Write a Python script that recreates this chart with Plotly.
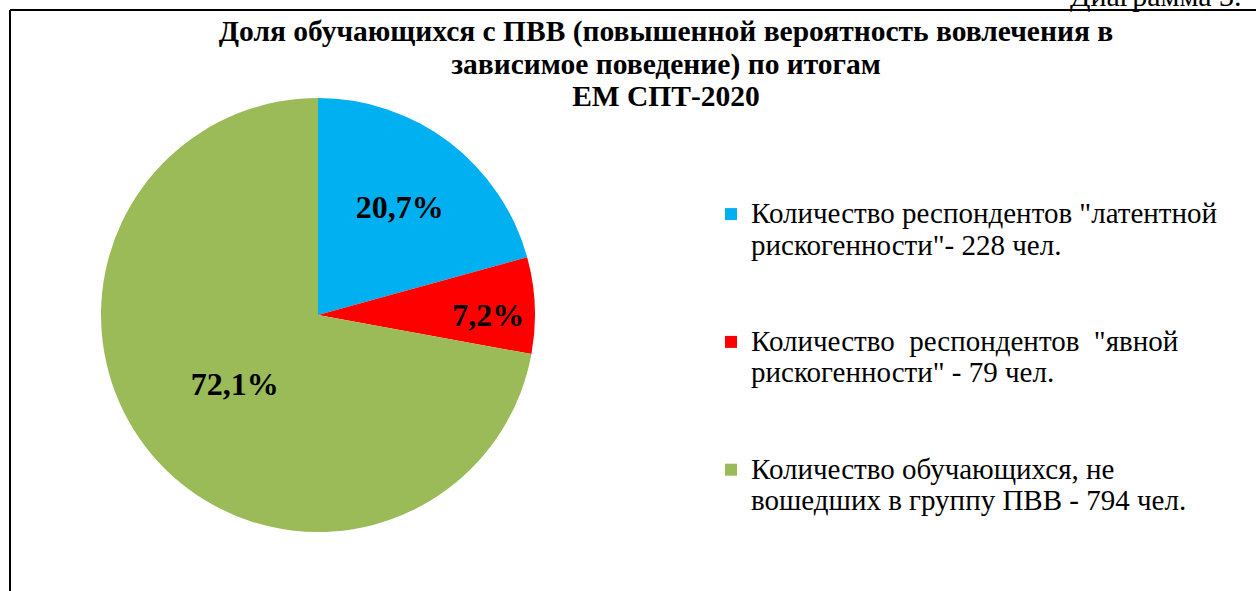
import plotly.graph_objects as go

label_lines = [
    ['Количество респондентов "латентной', 'рискогенности"- 228 чел.'],
    ['Количество  респондентов  "явной', 'рискогенности" - 79 чел.'],
    ['Количество обучающихся, не', 'вошедших в группу ПВВ - 794 чел.'],
]
counts = [228, 79, 794]
colors = ["#00B0F0", "#FF0000", "#9BBB59"]

title_lines = [
    "Доля обучающихся с ПВВ (повышенной вероятность вовлечения в",
    "зависимое поведение) по итогам",
    "ЕМ СПТ-2020",
]
corner_text = "Диаграмма 3."

SERIF = "Liberation Serif, Times New Roman, DejaVu Serif, serif"
W, H = 1256, 591


def sized(lines, px, bold=False):
    out = []
    for ln in lines:
        t = f'<span style="font-size:{px}px">{ln}</span>'
        out.append(f"<b>{t}</b>" if bold else t)
    return "<br>".join(out)


# legend entries: two text lines + blank lines that set the gap between entries
legend_labels = [sized(l, 29) + "<br> <br> " for l in label_lines]

fig = go.Figure()
fig.add_trace(go.Pie(
    labels=legend_labels,
    values=counts,
    sort=False,
    direction="clockwise",
    rotation=0,
    marker=dict(colors=colors, line=dict(width=0)),
    texttemplate="<b>%{percent:.1%}</b>",
    textposition="inside",
    insidetextorientation="horizontal",
    textfont=dict(family=SERIF, size=32, color="black"),
    domain=dict(x=[101 / W, 535 / W], y=[(276 - 217) / H, (276 + 217) / H]),
    hoverinfo="value+percent",
))

fig.update_layout(
    width=W, height=H,
    separators=", ",
    margin=dict(l=0, r=0, t=0, b=0),
    paper_bgcolor="white",
    font=dict(family=SERIF, color="black"),
    uniformtext=dict(minsize=32, mode="show"),
    title=dict(text=sized(title_lines, 29.5, bold=True), x=666 / W, xanchor="center",
               y=1 - 41 / H, yanchor="top",
               font=dict(family=SERIF, size=25, color="black")),
    legend=dict(x=711 / W, xanchor="left", y=1 - 192 / H, yanchor="top",
                font=dict(family=SERIF, size=24, color="black"),
                valign="top", itemwidth=30, bgcolor="rgba(0,0,0,0)"),
    shapes=[
        dict(type="line", xref="paper", yref="paper", x0=10 / W, x1=1.0, y0=1 - 10 / H, y1=1 - 10 / H,
             line=dict(color="black", width=2)),
        dict(type="line", xref="paper", yref="paper", x0=10 / W, x1=10 / W, y0=0, y1=1 - 10 / H,
             line=dict(color="black", width=2)),
    ],
    annotations=[
        dict(text=corner_text, xref="paper", yref="paper", x=1068 / W, y=1 - 14 / H,
             xanchor="left", yanchor="bottom", showarrow=False,
             font=dict(family=SERIF, size=30, color="black")),
    ],
)

fig.write_html("out.html", config={"displayModeBar": False},
               post_script="document.body.style.margin='0';document.body.style.padding='0';")
